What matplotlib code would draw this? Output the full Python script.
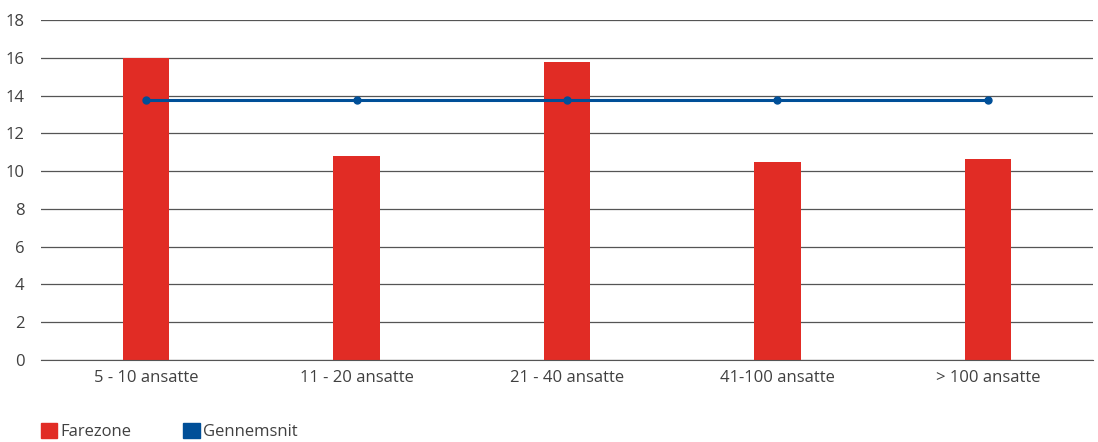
import numpy as np
import matplotlib.pyplot as plt
from matplotlib.patches import Patch

categories = ['5 - 10 ansatte', '11 - 20 ansatte', '21 - 40 ansatte', '41-100 ansatte', '> 100 ansatte']
farezone = [16.0, 10.8, 15.78, 10.48, 10.64]
gennemsnit = [13.78, 13.78, 13.78, 13.78, 13.78]

red = '#e12c25'
blue = '#004f98'
txt = '#404040'

plt.rcParams['font.family'] = ['Open Sans', 'DejaVu Sans']

fig = plt.figure(figsize=(10.98, 4.42), dpi=100)
ax = fig.add_axes([41/1098, 1-360/442, 1052/1098, 340/442])

x = np.arange(len(categories))
ax.bar(x, farezone, width=0.22, color=red, zorder=2)
ax.plot(x, gennemsnit, color=blue, lw=2.2, marker='o', ms=5, zorder=3)

ax.set_xlim(-0.5, len(categories) - 0.5)
ax.set_ylim(0, 18)
ax.set_yticks(range(0, 19, 2))
ax.set_xticks(x)
ax.set_xticklabels(categories)
ax.yaxis.grid(True, color='#555555', lw=0.9, zorder=0)
ax.set_axisbelow(True)
for s in ['top', 'right', 'left']:
    ax.spines[s].set_visible(False)
ax.spines['bottom'].set_color('#555555')
ax.tick_params(axis='both', length=0, labelsize=12, colors=txt, pad=7)
ax.tick_params(axis='y', pad=12)

handles = [Patch(color=red, label='Farezone'), Patch(color=blue, label='Gennemsnit')]
fig.legend(handles=handles, loc='center left', bbox_to_anchor=(0.037, 0.023), ncol=2,
           frameon=False, fontsize=12, labelcolor=txt, handlelength=1.0, handleheight=1.0,
           handletextpad=0.2, columnspacing=3.1, borderaxespad=0, borderpad=0)

fig.savefig('out.png', dpi=100)
